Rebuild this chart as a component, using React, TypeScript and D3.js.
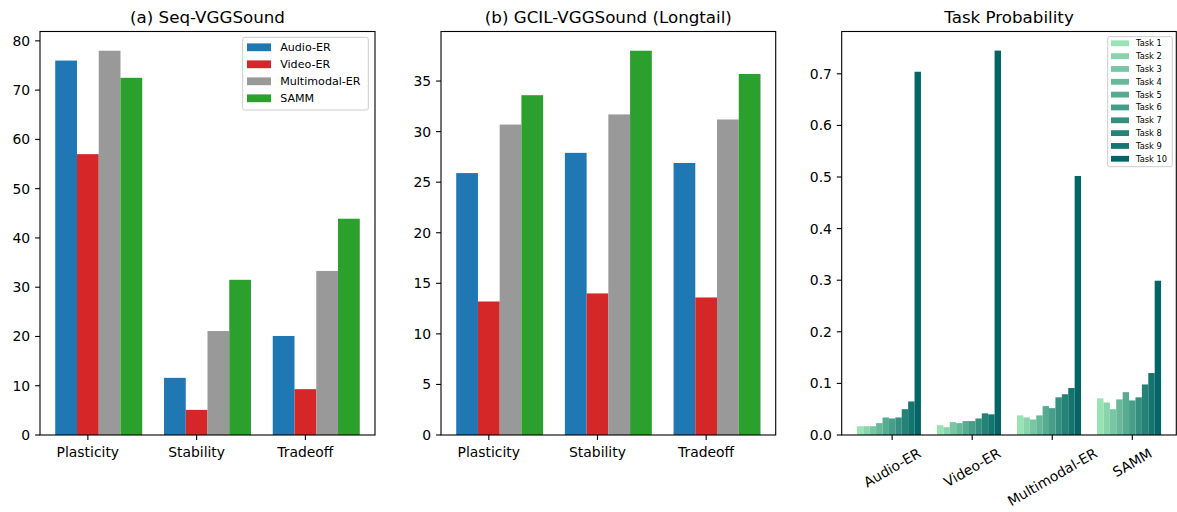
import React from "react";
import * as d3 from "d3";

const metrics = ["Plasticity", "Stability", "Tradeoff"];
const methods = ["Audio-ER", "Video-ER", "Multimodal-ER", "SAMM"];
const methodColors = ["#1f77b4", "#d62728", "#999999", "#2ca02c"];

// (a) Seq-VGGSound
const seqAudio = [76.0, 11.6, 20.1];
const seqVideo = [57.0, 5.1, 9.3];
const seqMulti = [78.0, 21.1, 33.3];
const seqSamm = [72.5, 31.5, 43.9];

// (b) GCIL-VGGSound (Longtail)
const gcilAudio = [25.9, 27.9, 26.9];
const gcilVideo = [13.2, 14.0, 13.6];
const gcilMulti = [30.7, 31.7, 31.2];
const gcilSamm = [33.6, 38.0, 35.7];

// Task probability (tasks 1..10 per method)
const taskNames = ["Task 1", "Task 2", "Task 3", "Task 4", "Task 5", "Task 6", "Task 7", "Task 8", "Task 9", "Task 10"];
const taskColors = ["#99e2b4", "#88d4ab", "#78c6a3", "#67b99a", "#56ab91", "#469d89", "#358f80", "#248277", "#14746f", "#036666"];
const probAudio = [0.017, 0.017, 0.017, 0.023, 0.034, 0.032, 0.034, 0.050, 0.065, 0.704];
const probVideo = [0.019, 0.015, 0.025, 0.023, 0.027, 0.027, 0.032, 0.042, 0.040, 0.745];
const probMulti = [0.038, 0.034, 0.030, 0.038, 0.056, 0.052, 0.073, 0.079, 0.091, 0.502];
const probSamm = [0.071, 0.063, 0.050, 0.069, 0.083, 0.067, 0.073, 0.098, 0.120, 0.299];

const seqTicks = [0, 10, 20, 30, 40, 50, 60, 70, 80];
const gcilTicks = [0, 5, 10, 15, 20, 25, 30, 35];
const probTicks = [0, 0.1, 0.2, 0.3, 0.4, 0.5, 0.6, 0.7];

const FONT = "DejaVu Sans, sans-serif";
const TOP = 31.5;
const BOTTOM = 435;
const TICK = 4.9;
const PAD = 4.9;
const TICK_FS = 13.9;

type Panel = { left: number; right: number };

let measureCtx: CanvasRenderingContext2D | null = null;
function textWidth(s: string, size: number): number {
  if (!measureCtx && typeof document !== "undefined") {
    measureCtx = document.createElement("canvas").getContext("2d");
  }
  if (measureCtx) {
    measureCtx.font = `${size}px "DejaVu Sans"`;
    return measureCtx.measureText(s).width;
  }
  return s.length * size * 0.6;
}

function Frame({ p }: { p: Panel }) {
  return (
    <rect x={p.left} y={TOP} width={p.right - p.left} height={BOTTOM - TOP} fill="none" stroke="#000" strokeWidth={1.1} />
  );
}

function YAxis({ p, y, ticks, fmt }: { p: Panel; y: d3.ScaleLinear<number, number>; ticks: number[]; fmt: (v: number) => string }) {
  return (
    <g>
      {ticks.map((t) => (
        <g key={t}>
          <line x1={p.left - TICK} x2={p.left} y1={y(t)} y2={y(t)} stroke="#000" strokeWidth={1.1} />
          <text x={p.left - TICK - PAD} y={y(t)} dy="0.36em" textAnchor="end" fontSize={TICK_FS} fontFamily={FONT} fill="#000">
            {fmt(t)}
          </text>
        </g>
      ))}
    </g>
  );
}

function GroupedPanel({ p, title, series, yMax, ticks }: { p: Panel; title: string; series: number[][]; yMax: number; ticks: number[] }) {
  const w = 0.2;
  const x = d3.scaleLinear().domain([-0.44, 2.64]).range([p.left, p.right]);
  const y = d3.scaleLinear().domain([0, yMax]).range([BOTTOM, TOP]);
  return (
    <g>
      {series.map((vals, j) =>
        vals.map((v, g) => {
          const c = g + (j - 1) * w;
          return (
            <rect key={`${j}-${g}`} x={x(c - w / 2)} width={x(c + w / 2) - x(c - w / 2)} y={y(v)} height={y(0) - y(v)} fill={methodColors[j]} />
          );
        })
      )}
      <Frame p={p} />
      <YAxis p={p} y={y} ticks={ticks} fmt={(v) => String(v)} />
      {metrics.map((m, g) => (
        <g key={m}>
          <line x1={x(g)} x2={x(g)} y1={BOTTOM} y2={BOTTOM + TICK} stroke="#000" strokeWidth={1.1} />
          <text x={x(g)} y={BOTTOM + TICK + PAD + 12.2} textAnchor="middle" fontSize={TICK_FS} fontFamily={FONT} fill="#000">
            {m}
          </text>
        </g>
      ))}
      <text x={(p.left + p.right) / 2} y={TOP - 8.5} textAnchor="middle" fontSize={16.7} fontFamily={FONT} fill="#000">
        {title}
      </text>
    </g>
  );
}

export default function App() {
  const p1: Panel = { left: 40, right: 375 };
  const p2: Panel = { left: 441, right: 775.7 };
  const p3: Panel = { left: 841.7, right: 1176.3 };

  const seqSeries = [seqAudio, seqVideo, seqMulti, seqSamm];
  const gcilSeries = [gcilAudio, gcilVideo, gcilMulti, gcilSamm];
  const probByMethod = [probAudio, probVideo, probMulti, probSamm];

  const bw = 0.08;
  const x3 = d3.scaleLinear().domain([-0.63, 3.55]).range([p3.left, p3.right]);
  const y3 = d3.scaleLinear().domain([0, 0.782]).range([BOTTOM, TOP]);

  const l1 = { x: 242.7, y: 37.3, w: 125.6, h: 72.7 };
  const l3 = { x: 1107.7, y: 36.7, w: 64.6, h: 130 };

  const lineH = TICK_FS * 1.164;
  const sin30 = 0.5;
  const cos30 = Math.sqrt(3) / 2;

  return (
    <div style={{ position: "absolute", left: 0, top: 0 }}>
      <svg width={1177} height={512} style={{ display: "block" }}>
        <rect width={1177} height={512} fill="#fff" />
        <GroupedPanel p={p1} title="(a) Seq-VGGSound" series={seqSeries} yMax={81.9} ticks={seqTicks} />
        <GroupedPanel p={p2} title="(b) GCIL-VGGSound (Longtail)" series={gcilSeries} yMax={39.9} ticks={gcilTicks} />

        {/* legend panel 1 */}
        <g>
          <rect x={l1.x} y={l1.y} width={l1.w} height={l1.h} rx={2} fill="#fff" fillOpacity={0.8} stroke="#cccccc" strokeWidth={1} />
          {methods.map((m, j) => {
            const cy = l1.y + 10 + j * 17;
            return (
              <g key={m}>
                <rect x={l1.x + 4.3} y={cy - 3.9} width={24} height={7.8} fill={methodColors[j]} />
                <text x={l1.x + 37.5} y={cy} dy="0.36em" fontSize={11.1} fontFamily={FONT} fill="#000">
                  {m}
                </text>
              </g>
            );
          })}
        </g>

        {/* panel 3 */}
        <g>
          {probByMethod.map((vals, g) =>
            vals.map((v, i) => {
              const c = g + (i - 5) * bw;
              return (
                <rect key={`${g}-${i}`} x={x3(c - bw / 2)} width={x3(c + bw / 2) - x3(c - bw / 2)} y={y3(v)} height={y3(0) - y3(v)} fill={taskColors[i]} />
              );
            })
          )}
          <Frame p={p3} />
          <YAxis p={p3} y={y3} ticks={probTicks} fmt={d3.format(".1f")} />
          {methods.map((m, g) => {
            const tw = textWidth(m, TICK_FS);
            const bboxH = tw * sin30 + lineH * cos30;
            const cy = BOTTOM + TICK + PAD + bboxH / 2;
            return (
              <g key={m}>
                <line x1={x3(g)} x2={x3(g)} y1={BOTTOM} y2={BOTTOM + TICK} stroke="#000" strokeWidth={1.1} />
                <text
                  x={0}
                  y={0}
                  dy="0.36em"
                  textAnchor="middle"
                  fontSize={TICK_FS}
                  fontFamily={FONT}
                  fill="#000"
                  transform={`translate(${x3(g)}, ${cy}) rotate(-30)`}
                >
                  {m}
                </text>
              </g>
            );
          })}
          <text x={(p3.left + p3.right) / 2} y={TOP - 8.5} textAnchor="middle" fontSize={16.7} fontFamily={FONT} fill="#000">
            Task Probability
          </text>
          <rect x={l3.x} y={l3.y} width={l3.w} height={l3.h} rx={2} fill="#fff" fillOpacity={0.8} stroke="#cccccc" strokeWidth={1} />
          {taskNames.map((t, i) => {
            const cy = l3.y + 6.6 + i * 12.83;
            return (
              <g key={t}>
                <rect x={l3.x + 3.3} y={cy - 2.9} width={18} height={5.8} fill={taskColors[i]} />
                <text x={l3.x + 28.3} y={cy} dy="0.36em" fontSize={8.3} fontFamily={FONT} fill="#000">
                  {t}
                </text>
              </g>
            );
          })}
        </g>
      </svg>
    </div>
  );
}
